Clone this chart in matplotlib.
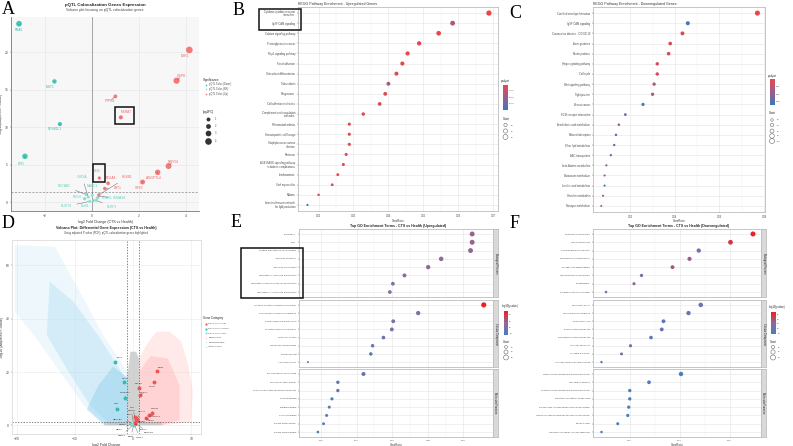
import matplotlib
matplotlib.use("Agg")
import matplotlib.pyplot as plt
from matplotlib.colors import LinearSegmentedColormap, Normalize
from matplotlib.patches import Rectangle
from matplotlib.cm import ScalarMappable

plt.rcParams['font.family'] = ['Liberation Sans', 'DejaVu Sans']

W, H = 793, 446
fig = plt.figure(figsize=(W / 100, H / 100), dpi=100)
fig.patch.set_facecolor('white')

# ---------------- data: pQTL colocalisation genes (panels A, D) ----------------
down_genes = ['FNA1', 'MST1', 'NPSB2L1', 'CFD']
down_fc = [-3.08, -1.58, -1.35, -2.83]
down_p = [23.8, 16.1, 10.4, 6.1]

up_genes = ['ESR1', 'GDPH', 'PTPN1', 'MXRA7', 'RSPO4', 'ANGPTL4', 'GPX3', 'CD9', 'ROLA4', 'LRT1', 'HEXB1']
up_fc = [4.13, 3.59, 1.00, 1.23, 3.25, 2.79, 2.15, 0.32, 0.69, 0.55, 0.30]
up_p = [20.3, 16.2, 14.1, 11.3, 4.8, 3.96, 2.67, 3.2, 2.5, 1.8, 0.95]

ns_genes = ['CYB5A', 'MACC1', 'NECAB1', 'REG4', 'NUDT4', 'BUB1', 'PODXL', 'SEMA3G', 'NLRP1']
ns_fc = [-0.15, 0.02, -0.25, -0.30, -0.08, 0.08, 0.23, 0.28, 0.20]
ns_p = [0.67, 0.90, 1.02, 0.44, 0.09, 0.22, 0.53, 0.76, 0.22]

# label positions in panel A (data coords)
down_lab_x = [-3.07, -1.77, -1.56, -3.00]
down_lab_y = [23.0, 15.4, 9.7, 5.1]
up_lab_x = [3.93, 3.80, 0.76, 1.45, 3.44, 2.59, 1.99, 0.23, 0.80, 1.08, 1.49]
up_lab_y = [19.5, 16.8, 13.5, 12.0, 5.4, 3.2, 1.9, 4.2, 3.2, 1.87, 3.3]
ns_lab_x = [-0.41, 0.01, -1.17, -0.62, -1.07, -0.30, 0.65, 1.18, 0.87]
ns_lab_y = [3.33, 2.18, 2.09, 0.62, -0.58, -0.58, 0.53, 0.49, -0.71]

# panel D background gene clouds (outlines)
dn_cloud_x = [-20.4, -13.5, -9.2, -5.2, -1.0, -1.0, -4.6, -8.6, -12.6, -16.7, -20.4]
dn_cloud_y = [67.6, 67.0, 50.1, 33.9, 20.1, 0.1, 0.1, 7.6, 20.1, 32.6, 42.6]
dn_core_x = [-14.4, -10.3, -5.7, -1.0, -1.0, -4.0, -7.5, -11.5, -14.9]
dn_core_y = [53.9, 46.4, 32.6, 16.4, 0.1, 0.1, 7.6, 21.4, 33.9]
dn_dense_x = [-1.0, -1.0, -5.0, -8.0, -6.0, -3.5]
dn_dense_y = [18.0, 0.1, 0.1, 6.0, 15.0, 22.0]
up_cloud_x = [1.0, 1.0, 2.3, 4.0, 6.3, 8.3, 9.5, 10.3, 10.0, 5.7]
up_cloud_y = [0.1, 25.1, 30.1, 35.1, 35.1, 31.4, 22.6, 12.6, 1.4, 0.1]
up_core_x = [1.0, 1.0, 3.0, 6.0, 8.0, 8.0, 5.0]
up_core_y = [0.1, 20.0, 26.0, 25.0, 15.0, 2.0, 0.1]
ot_cloud_x = [-1.0, -1.0, -0.5, 0.5, 1.0, 1.0, 5.0, 5.0, -5.0, -5.0]
ot_cloud_y = [1.3, 18.0, 27.6, 27.6, 25.0, 1.3, 1.3, 0.0, 0.0, 1.3]

# ---------------- data: KEGG up (B) ----------------
B_terms = ['Cytokine-cytokine receptor\ninteraction', 'IgSF CAM signaling', 'Calcium signaling pathway',
           'Proteoglycans in cancer', 'Rap1 signaling pathway', 'Focal adhesion',
           'Osteoclast differentiation', 'Tuberculosis', 'Phagosome', 'Cell adhesion molecules',
           'Complement and coagulation\ncascades', 'Rheumatoid arthritis', 'Hematopoietic cell lineage',
           'Staphylococcus aureus\ninfection', 'Pertussis',
           'AGE-RAGE signaling pathway\nin diabetic complications', 'Leishmaniasis', 'Viral myocarditis',
           'Malaria', 'Intestinal immune network\nfor IgA production']
B_ratio = [0.0688, 0.0584, 0.0544, 0.0488, 0.0455, 0.0440, 0.0423, 0.0400, 0.0391, 0.0375,
           0.0328, 0.0288, 0.0288, 0.0288, 0.0279, 0.0271, 0.0255, 0.0239, 0.0200, 0.0168]
B_padj = [0.3e-7, 5.0e-7, 0.4e-7, 0.6e-7, 0.8e-7, 0.6e-7, 0.7e-7, 5.5e-7, 1.5e-7, 2.0e-7,
          1.0e-7, 0.8e-7, 1.2e-7, 1.0e-7, 1.5e-7, 2.5e-7, 1.2e-7, 1.5e-7, 1.0e-7, 12.0e-7]
B_count = [89, 76, 71, 63, 59, 57, 55, 52, 51, 49, 43, 37, 37, 37, 36, 35, 33, 31, 26, 22]

# ---------------- data: KEGG down (C) ----------------
C_terms = ['Cornified envelope formation', 'IgSF CAM signaling', 'Coronavirus disease - COVID-19',
           'Axon guidance', 'Motor proteins', 'Hippo signaling pathway', 'Cell cycle',
           'Wnt signaling pathway', 'Tight junction', 'Breast cancer', 'ECM-receptor interaction',
           'Arachidonic acid metabolism', 'Mineral absorption', 'Ether lipid metabolism',
           'ABC transporters', 'beta-Alanine metabolism', 'Butanoate metabolism',
           'Linoleic acid metabolism', 'Histidine metabolism', 'Nitrogen metabolism']
C_ratio = [0.0770, 0.0458, 0.0434, 0.0379, 0.0372, 0.0321, 0.0321, 0.0307, 0.0300, 0.0257,
           0.0178, 0.0149, 0.0136, 0.0128, 0.0113, 0.0093, 0.0085, 0.0085, 0.0078, 0.0070]
C_padj = [0.0005, 0.030, 0.003, 0.004, 0.004, 0.005, 0.005, 0.013, 0.015, 0.033,
          0.028, 0.016, 0.031, 0.021, 0.026, 0.019, 0.020, 0.034, 0.020, 0.014]
C_count = [104, 62, 59, 51, 50, 43, 43, 41, 40, 35, 24, 20, 18, 17, 15, 13, 11, 11, 11, 9]

# ---------------- data: GO up (E) ----------------
E_bp = ['ossification', 'taxis', 'positive regulation of cell activation', 'leukocyte migration',
        'leukocyte proliferation', 'regulation of leukocyte proliferation',
        'regulation of mononuclear cell proliferation', 'regulation of lymphocyte proliferation']
E_bp_ratio = [0.1049, 0.1049, 0.1040, 0.0875, 0.0802, 0.0669, 0.0604, 0.0587]
E_bp_logp = [29, 29, 28, 27, 27, 27, 26, 26]
E_bp_count = [60, 60, 59, 50, 46, 38, 34, 33]
E_cc = ['collagen-containing extracellular matrix', 'external side of plasma membrane',
        'endoplasmic reticulum lumen', 'secretory granule membrane', 'endocytic vesicle',
        'membrane microdomain', 'membrane raft', 'lysosomal lumen']
E_cc_ratio = [0.1114, 0.0746, 0.0606, 0.0598, 0.0551, 0.0490, 0.0480, 0.0127]
E_cc_logp = [45, 24, 22, 22, 17, 15, 15, 9]
E_cc_count = [67, 45, 36, 36, 33, 29, 29, 8]
E_mf = ['glycosaminoglycan binding', 'immune receptor activity',
        'extracellular matrix structural constituent', 'heparin binding', 'integrin binding',
        'cytokine binding', 'growth factor activity', 'growth factor binding']
E_mf_ratio = [0.0439, 0.0295, 0.0295, 0.0262, 0.0247, 0.0232, 0.0215, 0.0183]
E_mf_logp = [17, 15, 15, 12, 12, 11, 10, 9]
E_mf_count = [40, 27, 27, 24, 22, 21, 19, 16]

# ---------------- data: GO down (F) ----------------
F_bp = ['epidermis development', 'skin development', 'humoral immune response',
        'epidermal cell differentiation', 'keratinocyte differentiation',
        'skin epidermis development', 'keratinization', 'establishment of skin barrier']
F_bp_ratio = [0.0693, 0.0603, 0.0476, 0.0439, 0.0371, 0.0247, 0.0217, 0.0105]
F_bp_logp = [53, 48, 22, 35, 38, 24, 32, 20]
F_bp_count = [90, 78, 62, 57, 48, 32, 28, 14]
F_cc = ['apical part of cell', 'apical plasma membrane', 'basal part of cell',
        'basal plasma membrane', 'basolateral plasma membrane', 'cytosolic ribosome',
        'cornified envelope', 'cytosolic small ribosomal subunit']
F_cc_ratio = [0.0484, 0.0435, 0.0335, 0.0328, 0.0285, 0.0203, 0.0167, 0.0087]
F_cc_logp = [22, 20, 17, 17, 16, 22, 30, 9]
F_cc_count = [70, 63, 48, 47, 41, 29, 24, 12]
F_mf = ['metal ion transmembrane transporter activity', 'microtubule binding',
        'sodium ion transmembrane transporter activity', 'structural constituent of ribosome',
        'organic acid transmembrane transporter activity',
        'carboxylic acid transmembrane transporter activity', 'lipase activity',
        'structural constituent of skin epidermis']
F_mf_ratio = [0.0405, 0.0277, 0.0200, 0.0200, 0.0196, 0.0192, 0.0152, 0.0087]
F_mf_logp = [9, 10, 9, 10, 10, 9, 10, 9]
F_mf_count = [66, 45, 33, 33, 32, 31, 25, 14]

# ---------------- styles ----------------
C_DOWN = '#45C7B5'
C_NS = '#8FE2D6'
C_UP = '#F47A7A'
TXT = '#4D4D4D'
cmap_kegg = LinearSegmentedColormap.from_list('kegg', ['#E8474C', '#9A5E8E', '#3B78BC'])
cmap_go = LinearSegmentedColormap.from_list('go', ['#4A7EC0', '#8C6A9B', '#F41C1C'])


def pax(l, t, r, b):
    return fig.add_axes([l / W, 1 - b / H, (r - l) / W, (b - t) / H])


def fc_size(fc):
    return (0.72 * (3.0 + 0.9 * abs(fc))) ** 2


# =============== Panel A ===============
axA = pax(11, 17, 199, 211)
axA.set_facecolor('#F7F7F7')
axA.set_xlim(-3.42, 4.54)
axA.set_ylim(-1.2, 24.7)
axA.set_xticks([-2, 0, 2, 4])
axA.set_yticks([0, 5, 10, 15, 20])
axA.grid(True, color='#E4E4E4', lw=0.4)
axA.set_axisbelow(True)
for s in ['top', 'right']:
    axA.spines[s].set_visible(False)
for s in ['left', 'bottom']:
    axA.spines[s].set_color('#777777')
    axA.spines[s].set_linewidth(0.6)
axA.tick_params(length=1, width=0.3, labelsize=2.4, pad=1, colors=TXT)
axA.axvline(0, color='#999999', lw=0.6, zorder=1)
axA.axhline(1.3, color='#888888', lw=0.5, ls=(0, (3, 2)), zorder=1)
axA.scatter(ns_fc, ns_p, s=[fc_size(v) for v in ns_fc], color=C_NS, zorder=3, lw=0)
axA.scatter(down_fc, down_p, s=[fc_size(v) for v in down_fc], color=C_DOWN, zorder=3, lw=0)
axA.scatter(up_fc, up_p, s=[fc_size(v) for v in up_fc], color=C_UP, zorder=3, lw=0)
for names, xs, ys, lx, ly, col in [(down_genes, down_fc, down_p, down_lab_x, down_lab_y, '#34BBA9'),
                                   (up_genes, up_fc, up_p, up_lab_x, up_lab_y, '#EE6464'),
                                   (ns_genes, ns_fc, ns_p, ns_lab_x, ns_lab_y, '#62CDBF')]:
    for g, x, y, tx, ty in zip(names, xs, ys, lx, ly):
        axA.annotate(g, xy=(x, y), xytext=(tx, ty), textcoords='data', ha='center', va='center',
                     fontsize=2.3, color=col, zorder=4,
                     arrowprops=dict(arrowstyle='-', color='#555555', lw=0.3, shrinkA=1.5, shrinkB=1))
axA.set_xlabel('log2 Fold Change (CTS vs Health)', fontsize=2.6, labelpad=1.5, color='#333333')
axA.set_ylabel('-log10(Adjusted P-value)', fontsize=2.6, labelpad=1, color='#333333')
fig.text(105 / W, 1 - 5 / H, 'pQTL Colocalization Genes Expression', ha='center', va='center',
         fontsize=3.2, fontweight='bold', color='#222222')
fig.text(105 / W, 1 - 10.5 / H, 'Volcano plot focusing on pQTL colocalization genes', ha='center',
         va='center', fontsize=2.4, color='#444444')

# =============== Panel D ===============
axD = pax(12, 240, 201, 434)
axD.set_xlim(-20.9, 11.7)
axD.set_ylim(-3.25, 69.5)
axD.set_xticks([-20, -10, 0, 10])
axD.set_yticks([0, 20, 40, 60])
axD.grid(True, color='#EBEBEB', lw=0.4)
axD.set_axisbelow(True)
for s in axD.spines.values():
    s.set_color('#D5D5D5')
    s.set_linewidth(0.5)
axD.tick_params(length=1, width=0.3, labelsize=2.4, pad=1, colors=TXT)
axD.fill(dn_cloud_x, dn_cloud_y, facecolor='#C4E7F7', alpha=0.3, lw=0, zorder=1)
axD.fill(dn_core_x, dn_core_y, facecolor='#A6DAF2', alpha=0.35, lw=0, zorder=1)
axD.fill(dn_dense_x, dn_dense_y, facecolor='#8FD0EE', alpha=0.45, lw=0, zorder=1)
axD.fill(up_cloud_x, up_cloud_y, facecolor='#FFCACA', alpha=0.4, lw=0, zorder=1)
axD.fill(up_core_x, up_core_y, facecolor='#FFB3B3', alpha=0.4, lw=0, zorder=1)
axD.fill(ot_cloud_x, ot_cloud_y, facecolor='#C4C4C4', alpha=0.75, lw=0, zorder=1)
axD.axvline(-1, color='#555555', lw=0.5, ls=(0, (2, 2)), zorder=2)
axD.axvline(1, color='#555555', lw=0.5, ls=(0, (2, 2)), zorder=2)
axD.axhline(1.3, color='#555555', lw=0.5, ls=(0, (2, 2)), zorder=2)
axD.scatter(ns_fc, ns_p, s=6, color=C_NS, zorder=3, lw=0)
axD.scatter(down_fc, down_p, s=8, color='#35BFA9', zorder=3, lw=0)
axD.scatter(up_fc, up_p, s=8, color='#EE5555', zorder=3, lw=0)
d_off_up = [(3, 2.4), (-1.5, -3), (0, 3), (2.5, 2), (2, 3), (3.5, -1), (4, -2), (-2, 6.5), (3, 5.5),
            (-5, 4), (5, 1)]
d_off_dn = [(3, 3), (1, 3), (0, 4), (0, 4)]
d_off_ns = [(-7, -0.5), (-1, 9), (-10, 2.5), (-9, -3.5), (-8, -7.5), (-2, -8.5), (6, -4), (10, -6.5),
            (4, -9)]
for names, xs, ys, offs in [(up_genes, up_fc, up_p, d_off_up), (down_genes, down_fc, down_p, d_off_dn),
                            (ns_genes, ns_fc, ns_p, d_off_ns)]:
    for g, x, y, o in zip(names, xs, ys, offs):
        axD.annotate(g, xy=(x, y), xytext=o, textcoords='offset points', ha='center', va='center',
                     fontsize=1.7, color='#222222', zorder=4,
                     arrowprops=dict(arrowstyle='-', color='#444444', lw=0.25, shrinkA=0.8, shrinkB=0.5))
axD.set_xlabel('log2 Fold Change', fontsize=2.6, labelpad=1.5, color='#333333')
axD.set_ylabel('-log10 (Adjusted P-value)', fontsize=2.6, labelpad=1, color='#333333')
fig.text(106 / W, 1 - 227.5 / H, 'Volcano Plot: Differential Gene Expression (CTS vs Health)',
         ha='center', va='center', fontsize=2.6, fontweight='bold', color='#222222')
fig.text(106 / W, 1 - 233 / H,
         'Using adjusted P-value (FDR); pQTL colocalization genes highlighted',
         ha='center', va='center', fontsize=2.0, color='#444444')


# =============== dotplot helper ===============
def dotplot(ax, terms, ratio, cval, counts, cmap, norm, sfun, xlim, xticks, xtl, show_x=True, fs=1.9):
    n = len(terms)
    ys = list(range(n - 1, -1, -1))
    ax.scatter(ratio, ys, s=[sfun(c) for c in counts], c=cval, cmap=cmap, norm=norm,
               edgecolors='none', zorder=3)
    ax.set_ylim(-0.6, n - 0.4)
    ax.set_yticks(ys)
    ax.set_yticklabels(terms, linespacing=0.9)
    ax.set_xlim(*xlim)
    ax.set_xticks(xticks)
    ax.set_xticklabels(xtl if show_x else [])
    mids = [(a + b) / 2 for a, b in zip(xticks[:-1], xticks[1:])]
    ax.set_xticks(mids, minor=True)
    ax.grid(True, which='major', color='#E3E3E3', lw=0.4)
    ax.grid(True, which='minor', axis='x', color='#F0F0F0', lw=0.3)
    ax.set_axisbelow(True)
    ax.tick_params(which='major', length=1, width=0.3, labelsize=fs, pad=1, colors=TXT)
    ax.tick_params(which='minor', length=0)
    for sp in ax.spines.values():
        sp.set_color('#BDBDBD')
        sp.set_linewidth(0.6)


def colorbar(l, t, r, b, cmap, norm, ticks, labels, reverse, title, tx, ty):
    cax = pax(l, t, r, b)
    cb = fig.colorbar(ScalarMappable(norm=norm, cmap=cmap), cax=cax)
    cb.set_ticks(ticks)
    cb.set_ticklabels(labels)
    cb.outline.set_visible(False)
    cax.tick_params(length=0, labelsize=1.6, pad=1, colors=TXT)
    if reverse:
        cax.invert_yaxis()
    fig.text(tx / W, 1 - ty / H, title, fontsize=1.9, color='#333333', va='center', ha='left')


# =============== Panel B ===============
axB = pax(298, 7, 498, 211)
normB = Normalize(vmin=min(B_padj), vmax=max(B_padj))
dotplot(axB, B_terms, B_ratio, B_padj, B_count, cmap_kegg, normB, lambda c: 0.18 * c - 1.5,
        (0.0141, 0.0714), [0.02, 0.03, 0.04, 0.05, 0.06, 0.07],
        ['0.02', '0.03', '0.04', '0.05', '0.06', '0.07'])
axB.set_xlabel('GeneRatio', fontsize=1.9, labelpad=0.8, color='#333333')
fig.text(298 / W, 1 - 3.5 / H, 'KEGG Pathway Enrichment - Upregulated Genes', fontsize=2.6,
         color='#333333', va='center', ha='left')
colorbar(503, 85, 508, 110, cmap_kegg, normB, [3e-7, 6e-7, 9e-7], ['3e-07', '6e-07', '9e-07'],
         True, 'p.adjust', 501, 81)

# =============== Panel C ===============
axC = pax(593, 7, 765, 212)
normC = Normalize(vmin=min(C_padj), vmax=max(C_padj))
dotplot(axC, C_terms, C_ratio, C_padj, C_count, cmap_kegg, normC, lambda c: 0.12 * c + 1.0,
        (0.0033, 0.0804), [0.02, 0.04, 0.06, 0.08], ['0.02', '0.04', '0.06', '0.08'])
axC.set_xlabel('GeneRatio', fontsize=1.9, labelpad=0.5, color='#333333')
fig.text(593 / W, 1 - 3.5 / H, 'KEGG Pathway Enrichment - Downregulated Genes', fontsize=2.6,
         color='#333333', va='center', ha='left')
colorbar(770, 79, 775, 105, cmap_kegg, normC, [0.01, 0.02, 0.03], ['0.01', '0.02', '0.03'],
         True, 'p.adjust', 768, 76)

# =============== Panels E & F (faceted) ===============
facets = [('Biological Process', 229, 297), ('Cellular Component', 300, 367), ('Molecular Function', 369, 437)]


def go_panel(l, r, strip_r, data, norm, sfun, xlim, xticks, xtl):
    axes = []
    for i, ((name, t, b), (terms, ratio, logp, cnt)) in enumerate(zip(facets, data)):
        ax = pax(l, t, r, b)
        dotplot(ax, terms, ratio, logp, cnt, cmap_go, norm, sfun, xlim, xticks, xtl,
                show_x=(i == 2), fs=1.7)
        sax = pax(r, t, strip_r, b)
        sax.set_facecolor('#D9D9D9')
        sax.set_xticks([])
        sax.set_yticks([])
        for sp in sax.spines.values():
            sp.set_color('#BDBDBD')
            sp.set_linewidth(0.6)
        sax.text(0.5, 0.5, name, rotation=270, ha='center', va='center', fontsize=1.8,
                 color='#1A1A1A', transform=sax.transAxes)
        axes.append(ax)
    axes[-1].set_xlabel('GeneRatio', fontsize=1.9, labelpad=1, color='#333333')
    return axes


normE = Normalize(vmin=8, vmax=46)
go_panel(299, 493, 498,
         [(E_bp, E_bp_ratio, E_bp_logp, E_bp_count), (E_cc, E_cc_ratio, E_cc_logp, E_cc_count),
          (E_mf, E_mf_ratio, E_mf_logp, E_mf_count)],
         normE, lambda c: 0.2 * c + 0.5, (0.0077, 0.1166), [0.02, 0.04, 0.06, 0.08, 0.10],
         ['0.02', '0.04', '0.06', '0.08', '0.10'])
fig.text(398 / W, 1 - 226.5 / H, 'Top GO Enrichment Terms - CTS vs Health (Upregulated)',
         ha='center', va='center', fontsize=2.5, fontweight='bold', color='#222222')
colorbar(504, 311, 508, 335, cmap_go, normE, [10, 20, 30, 40], ['10', '20', '30', '40'],
         False, '-log10(pvalue)', 502, 306)

normF = Normalize(vmin=8, vmax=55)
go_panel(593, 761, 766,
         [(F_bp, F_bp_ratio, F_bp_logp, F_bp_count), (F_cc, F_cc_ratio, F_cc_logp, F_cc_count),
          (F_mf, F_mf_ratio, F_mf_logp, F_mf_count)],
         normF, lambda c: 0.13 * c + 1.5, (0.0053, 0.0725), [0.02, 0.04, 0.06],
         ['0.02', '0.04', '0.06'])
fig.text(679 / W, 1 - 226.5 / H, 'Top GO Enrichment Terms - CTS vs Health (Downregulated)',
         ha='center', va='center', fontsize=2.5, fontweight='bold', color='#222222')
colorbar(771, 312, 776, 334, cmap_go, normF, [10, 20, 30, 40, 50], ['10', '20', '30', '40', '50'],
         False, '-log10(pvalue)', 769, 307)

# =============== overlay: legends, letters, highlight boxes ===============
ov = fig.add_axes([0, 0, 1, 1], zorder=50)
ov.set_xlim(0, W)
ov.set_ylim(H, 0)
ov.axis('off')
ov.patch.set_alpha(0)

# legend A
ov.text(203, 80.5, 'Significance', fontsize=2.2, color='#222222', va='center')
for yy, col, lab in [(84.5, C_DOWN, 'pQTL Coloc (Down)'), (89, C_NS, 'pQTL Coloc (NS)'),
                     (93.5, C_UP, 'pQTL Coloc (Up)')]:
    ov.scatter([206], [yy], s=1.5, color=col, lw=0)
    ov.text(209, yy, lab, fontsize=1.8, color=TXT, va='center')
ov.text(203, 112, '|log2FC|', fontsize=2.2, color='#222222', va='center')
for yy, v in [(119, 1), (126, 2), (133, 3), (141, 4)]:
    ov.scatter([208], [yy], s=fc_size(v), color='#333333', lw=0)
    ov.text(214.5, yy, str(v), fontsize=1.8, color=TXT, va='center')

# legend D
ov.text(203, 318, 'Gene Category', fontsize=2.2, color='#222222', va='center')
for yy, col, lab, sz in [(324, '#EE5555', 'pQTL Coloc (Up)', 2.5), (328.5, '#35BFA9', 'pQTL Coloc (Down)', 2.5),
                         (333, C_NS, 'pQTL Coloc (NS)', 2.5), (337.5, '#FFB0B0', 'Upregulated', 0.6),
                         (342, '#A9DDF3', 'Downregulated', 0.6), (346.5, '#C4C4C4', 'Other Genes', 0.6)]:
    ov.scatter([206], [yy], s=sz, color=col, lw=0)
    ov.text(208.5, yy, lab, fontsize=1.7, color=TXT, va='center')


def count_legend(x, ty, ys, vals, sfun):
    ov.text(x - 3, ty, 'Count', fontsize=1.9, color='#333333', va='center')
    for yy, v in zip(ys, vals):
        ov.scatter([x], [yy], s=sfun(v), facecolors='none', edgecolors='#555555', lw=0.35)
        ov.text(x + 5, yy, str(v), fontsize=1.6, color=TXT, va='center')


count_legend(505.5, 119, [125, 131, 137], [40, 60, 80], lambda c: 0.18 * c - 1.5)
count_legend(772, 113, [120, 125, 131, 136, 141], [20, 40, 60, 80, 100], lambda c: 0.12 * c + 1.0)
count_legend(506, 342, [347, 352, 357.5], [20, 40, 60], lambda c: 0.2 * c + 0.5)
count_legend(773, 342, [347, 352, 357.5], [30, 60, 90], lambda c: 0.13 * c + 1.5)

# panel letters
for lab, x, y in [('A', 2, 1), ('B', 233, 2), ('C', 509, 5), ('D', 2, 215), ('E', 231, 214), ('F', 510, 215)]:
    ov.text(x, y, lab, fontsize=13, family='Liberation Serif', color='#000000', va='top', ha='left')

# highlight boxes
for (l, t, r, b) in [(115, 107, 134, 124), (93, 164, 105, 182), (258.5, 8.5, 301, 29.5),
                     (241, 247.5, 302.5, 297.5)]:
    ov.add_patch(Rectangle((l, t), r - l, b - t, fill=False, edgecolor='#111111', lw=1.1))

fig.savefig('out.png', dpi=100, facecolor='white')
